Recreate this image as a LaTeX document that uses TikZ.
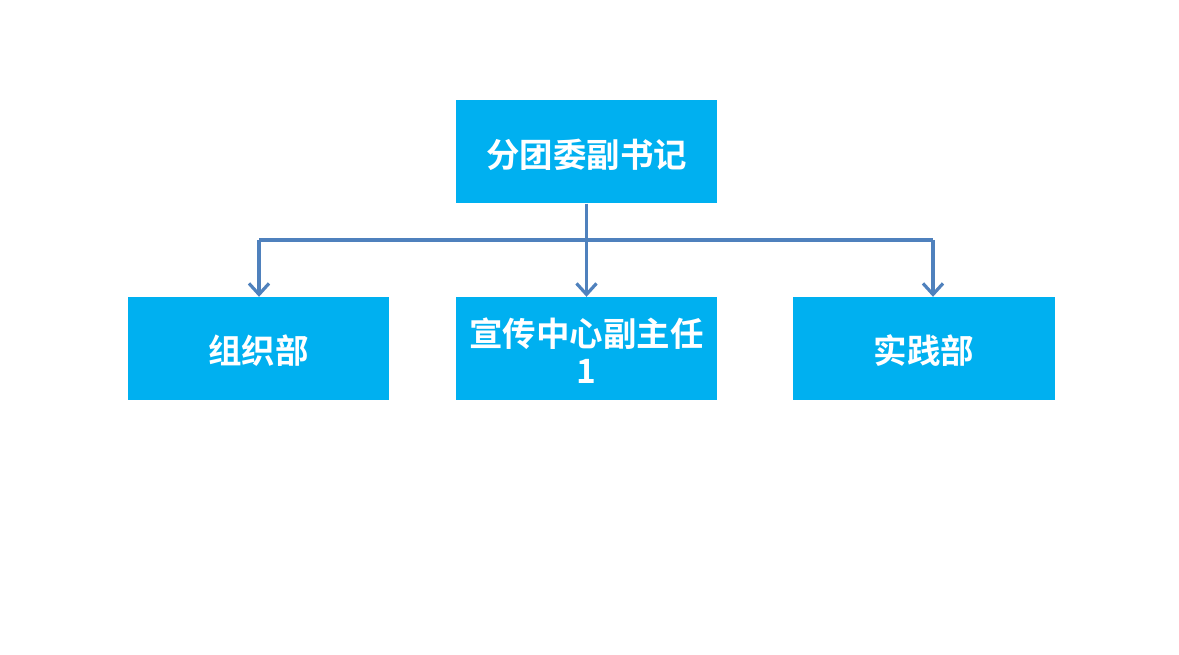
\documentclass[tikz,border=0pt]{standalone}
\usepackage{fontspec}
\newfontfamily\cjk{Noto Sans CJK SC}[BoldFont={Noto Sans CJK SC Bold}]
\usetikzlibrary{arrows.meta}
\definecolor{boxblue}{HTML}{00B0F0}
\definecolor{linkblue}{HTML}{4F81BD}
\tikzset{
  x=1pt,y=-1pt,
  orgbox/.style={fill=boxblue,draw=none,minimum width=261pt,minimum height=103pt,
    inner sep=0pt},
  boxtext/.style={text=white,align=center,inner sep=0pt,
    font=\cjk\bfseries\fontsize{33.5}{37}\selectfont},
  link/.style={draw=linkblue,line width=3.2pt,line join=round,
    -{Straight Barb[length=11pt,width=20pt,line width=3.2pt]}},
  plain/.style={draw=linkblue,line width=3.2pt}
}
\begin{document}
\begin{tikzpicture}
\useasboundingbox (0,0) rectangle (1179,655);
\node[orgbox] (top) at (586.5,152) {};
\node[boxtext] (toptxt) at (586.5,155) {分团委副书记};
\node[orgbox] (left) at (258.5,348.5) {};
\node[boxtext] (lefttxt) at (258.5,351) {组织部};
\node[orgbox] (mid) at (586.5,348.5) {};
\node[boxtext] (midtxt) at (586.5,351) {宣传中心副主任\\1};
\node[orgbox,minimum width=262pt] (right) at (924,348.5) {};
\node[boxtext] (righttxt) at (924,351) {实践部};
\coordinate (hl) at (259,240);
\coordinate (hr) at (933,240);
\draw[plain] (hl) -- (hr);
\draw[link] (top.south) -- (mid.north);
\draw[link] (hl) -- (left.north -| hl);
\draw[link] (hr) -- (right.north -| hr);
\end{tikzpicture}
\end{document}
